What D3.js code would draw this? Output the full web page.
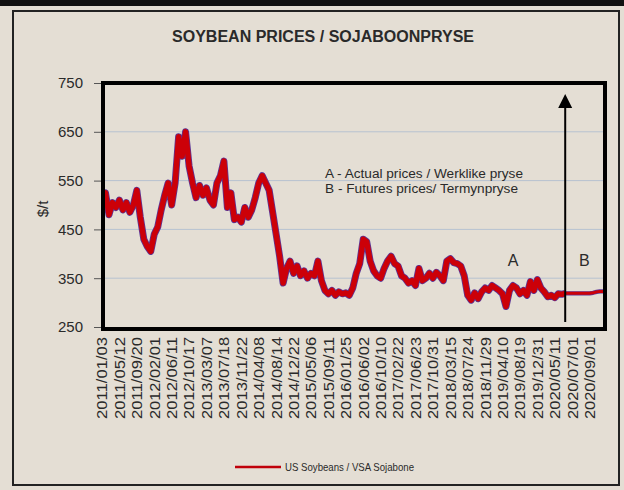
<!DOCTYPE html>
<html>
<head>
<meta charset="utf-8">
<script src="https://cdn.jsdelivr.net/npm/d3@7/dist/d3.min.js"></script>
<style>
  html, body { margin: 0; padding: 0; background: #e4ded4; }
  svg { display: block; }
  text { font-family: "Liberation Sans", Arial, sans-serif; fill: #2a2a2a; }
</style>
</head>
<body>
<svg id="chart" width="624" height="490"></svg>
<script>
// x labels, one every 5 samples
var tickLabels = [
    '2011/01/03', '2011/05/12', '2011/09/20', '2012/02/01', '2012/06/11', '2012/10/17',
    '2013/03/07', '2013/07/18', '2013/11/22', '2014/04/08', '2014/08/14', '2014/12/22',
    '2015/05/06', '2015/09/11', '2016/01/25', '2016/06/02', '2016/10/10', '2017/02/22',
    '2017/06/23', '2017/10/31', '2018/03/15', '2018/07/24', '2018/11/29', '2019/04/10',
    '2019/08/19', '2019/12/31', '2020/05/11', '2020/07/01', '2020/09/01'
];
var tickStep = 5;

// US soybeans, $/t (A - actual prices)
var actual = [
    505, 525, 480, 505, 495, 510, 490, 505, 485, 500,
    530, 475, 430, 415, 405, 440, 455, 490, 520, 545,
    500, 545, 640, 600, 650, 580, 545, 515, 540, 520,
    535, 510, 500, 545, 560, 590, 495, 525, 470, 475,
    465, 495, 475, 490, 515, 545, 560, 545, 530, 485,
    440, 395, 340, 370, 385, 360, 375, 355, 365, 350,
    360, 355, 385, 345, 325, 318, 325, 315, 322, 318,
    320, 315, 330, 360, 380, 430, 425, 385, 365, 355,
    350, 370, 385, 395, 380, 375, 355, 350, 340, 345,
    335, 370, 345, 350, 360, 350, 362, 355, 345, 385,
    390, 382, 380, 375, 355, 315, 305, 320, 308, 322,
    330, 325, 335, 330, 325, 318, 292, 325, 335, 330,
    318, 325, 315, 343, 325, 347, 330, 322, 312, 315,
    310, 318, 317, 319
];
// B - futures prices, continuing from the last actual sample
var futures = [319, 319, 319, 319, 319, 319, 319, 319, 320, 322, 323, 323];

var yTicks = [250, 350, 450, 550, 650, 750];
var gridValues = [350, 450, 550, 650];

var svg = d3.select('#chart');

var plot = { left: 103, top: 83, right: 605, bottom: 329 };

var x = d3.scaleLinear().domain([0, 145]).range([102, 607]);
var y = d3.scaleLinear().domain([250, 750]).range([327, 83]);

var split = actual.length - 1;
var actualPts = actual.map(function( v, i ){ return { i: i, v: v }; });
var futurePts = futures.map(function( v, i ){ return { i: split + i, v: v }; });

// outer frame
svg.append('rect').attr('x', 0).attr('y', 0).attr('width', 624).attr('height', 6).attr('fill', '#111');
svg.append('rect')
    .attr('x', 13).attr('y', 11).attr('width', 606).attr('height', 474)
    .attr('fill', 'none').attr('stroke', '#222').attr('stroke-width', 2);

// title
svg.append('text')
    .attr('x', 323).attr('y', 42)
    .attr('text-anchor', 'middle')
    .attr('font-size', 16).attr('font-weight', 'bold')
    .attr('textLength', 302).attr('lengthAdjust', 'spacingAndGlyphs')
    .text('SOYBEAN PRICES / SOJABOONPRYSE');

svg.append('defs').append('clipPath').attr('id', 'clip')
    .append('rect')
    .attr('x', plot.left).attr('y', plot.top)
    .attr('width', plot.right - plot.left).attr('height', plot.bottom - plot.top);

// gridlines
svg.append('g').selectAll('line').data(gridValues).enter().append('line')
    .attr('x1', plot.left).attr('x2', plot.right)
    .attr('y1', function( d ){ return y(d); }).attr('y2', function( d ){ return y(d); })
    .attr('stroke', '#b7c2d0').attr('stroke-width', 1);

// y axis
var yAxis = d3.axisLeft(y).tickValues(yTicks).tickSize(7).tickPadding(11).tickSizeOuter(0);
var gy = svg.append('g').attr('transform', 'translate(' + (plot.left - 2) + ',0)').call(yAxis);
gy.select('.domain').remove();
gy.selectAll('line').attr('stroke', '#555');
gy.selectAll('text')
    .attr('font-size', 15).attr('fill', '#333')
    .attr('font-family', '"Liberation Sans", Arial, sans-serif');

svg.append('text')
    .attr('transform', 'translate(48,209) rotate(-90)')
    .attr('text-anchor', 'middle')
    .attr('font-size', 15)
    .text('$/t');

// x axis labels
var tickIdx = tickLabels.map(function( d, i ){ return i * tickStep; });
var xAxis = d3.axisBottom(x).tickValues(tickIdx).tickSize(0).tickSizeOuter(0)
    .tickFormat(function( d ){ return tickLabels[d / tickStep]; });
var gx = svg.append('g').attr('transform', 'translate(0,' + (plot.bottom + 2) + ')').call(xAxis);
gx.select('.domain').remove();
gx.selectAll('text')
    .attr('font-size', 14).attr('fill', '#333')
    .attr('font-family', '"Liberation Sans", Arial, sans-serif')
    .attr('text-anchor', 'end')
    .attr('textLength', 82).attr('lengthAdjust', 'spacingAndGlyphs')
    .attr('y', 0).attr('x', -6).attr('dy', '0.35em')
    .attr('transform', 'rotate(-90)');

// price line
var line = d3.line()
    .x(function( d ){ return x(d.i); })
    .y(function( d ){ return y(d.v); });

var gLine = svg.append('g').attr('clip-path', 'url(#clip)');
function drawPart( pts, outer, inner ){
    gLine.append('path').datum(pts)
        .attr('d', line).attr('fill', 'none')
        .attr('stroke', '#5b3596').attr('stroke-width', outer).attr('stroke-linejoin', 'round');
    gLine.append('path').datum(pts)
        .attr('d', line).attr('fill', 'none')
        .attr('stroke', '#cc0008').attr('stroke-width', inner).attr('stroke-linejoin', 'round');
}
drawPart(actualPts, 7, 5.4);
drawPart(futurePts, 4.2, 3);

// plot border
svg.append('rect')
    .attr('x', plot.left).attr('y', plot.top)
    .attr('width', plot.right - plot.left).attr('height', plot.bottom - plot.top)
    .attr('fill', 'none').attr('stroke', '#000').attr('stroke-width', 4);

// actual / futures divider arrow
var ax = x(split);
svg.append('line')
    .attr('x1', ax).attr('x2', ax).attr('y1', 322).attr('y2', 104)
    .attr('stroke', '#000').attr('stroke-width', 2);
svg.append('path')
    .attr('d', 'M' + (ax - 7) + ',108 L' + ax + ',94 L' + (ax + 7) + ',108 Z')
    .attr('fill', '#000');

svg.append('text').attr('x', x(118)).attr('y', 266)
    .attr('text-anchor', 'middle').attr('font-size', 16).text('A');
svg.append('text').attr('x', x(138.5)).attr('y', 266)
    .attr('text-anchor', 'middle').attr('font-size', 16).text('B');

// notes
svg.append('text').attr('x', 325).attr('y', 178)
    .attr('font-size', 12)
    .attr('textLength', 198).attr('lengthAdjust', 'spacingAndGlyphs')
    .text('A - Actual prices / Werklike pryse');
svg.append('text').attr('x', 325).attr('y', 193)
    .attr('font-size', 12)
    .attr('textLength', 193).attr('lengthAdjust', 'spacingAndGlyphs')
    .text('B - Futures prices/ Termynpryse');

// legend
svg.append('line')
    .attr('x1', 235).attr('x2', 281).attr('y1', 467).attr('y2', 467)
    .attr('stroke', '#c0000a').attr('stroke-width', 2.5);
svg.append('text').attr('x', 285).attr('y', 471)
    .attr('font-size', 11)
    .attr('textLength', 129).attr('lengthAdjust', 'spacingAndGlyphs')
    .text('US Soybeans / VSA Sojabone');
</script>
</body>
</html>
